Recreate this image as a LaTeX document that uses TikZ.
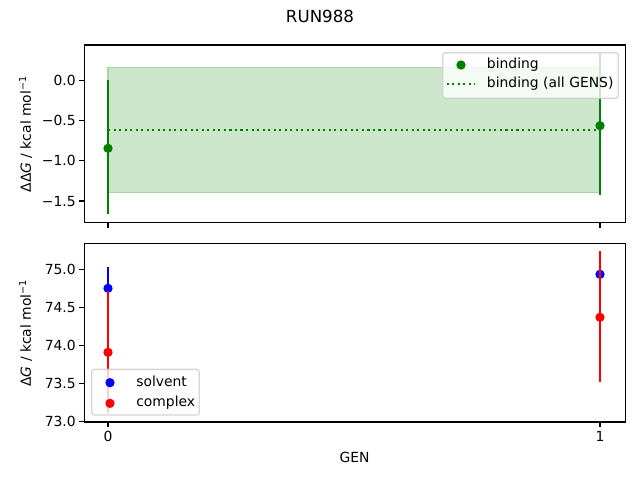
\documentclass[tikz,border=0pt]{standalone}
\usepackage{fontspec}
\setmainfont{DejaVu Sans}
\definecolor{mgreen}{RGB}{0,128,0}
\definecolor{mblue}{RGB}{0,0,255}
\definecolor{mred}{RGB}{255,0,0}
\definecolor{fillg}{RGB}{204,230,204}
\definecolor{edgeg}{RGB}{170,212,170}
\definecolor{lgray}{RGB}{204,204,204}
\begin{document}
\begin{tikzpicture}[x=0.75pt,y=-0.75pt,
  tickmark/.style={line width=0.83pt},
  axframe/.style={line width=0.83pt, draw=black},
  lbl/.style={font=\fontsize{10.42pt}{12pt}\selectfont, inner sep=0pt},
  ebar/.style={line width=1.56pt},
  dot/.style={radius=3.5pt},
  legbox/.style={rounded corners=2.1pt, fill=white, fill opacity=0.8, draw=lgray, draw opacity=0.8, line width=1.04pt},
  dotline/.style={line width=1.56pt, dash pattern=on 1.56pt off 2.58pt}]
\useasboundingbox (0,0) rectangle (640,480);

% ---------- title
\node[lbl, font=\fontsize{12.5pt}{14pt}\selectfont, anchor=base] (title) at (320,22.7) {RUN988};

% ---------- top axes
\begin{scope}
\clip (84.3,45) rectangle (625.3,222.7);
\fill[fillg] (108,67.3) rectangle (600,192.7);
\draw[edgeg, line width=1.04pt] (108,67.3) rectangle (600,192.7);
\draw[mgreen, dotline] (108,130) -- (600,130);
\draw[mgreen, ebar] (108,80.3) -- (108,214.3);
\draw[mgreen, ebar] (600,53) -- (600,195);
\fill[mgreen] (108,148.3) circle[dot];
\fill[mgreen] (600,125.7) circle[dot];
\end{scope}
% legend top
\draw[legbox] (442.7,52.7) rectangle (618.3,98.3);
\fill[mgreen] (461,65) circle[dot];
\draw[mgreen, dotline] (446.7,84) -- (475,84);
\node[lbl, anchor=base west] (lbind) at (486.7,68.5) {binding};
\node[lbl, anchor=base west] (lbindall) at (486.7,87.5) {binding (all GENS)};
% frame and ticks
\draw[axframe] (84.3,45) rectangle (625.3,222.7);
\foreach \yy/\tt [count=\i] in {80.3/0.0, 120.5/−0.5, 160.8/−1.0, 201.0/−1.5}{
  \draw[tickmark] (84.3,\yy) -- ++(-4.86,0);
  \node[lbl, anchor=base east] (ty\i) at (76,\yy+5.1) {\tt};
}
\draw[tickmark] (108,222.7) -- ++(0,4.86);
\draw[tickmark] (600,222.7) -- ++(0,4.86);
\node[lbl, rotate=90, anchor=base] (ylabtop) at (31,134) {ΔΔ\textit{G} / kcal mol\textsuperscript{−1}};

% ---------- bottom axes
\begin{scope}
\clip (84.3,243.3) rectangle (625.3,422);
\draw[mblue, ebar] (108,266.7) -- (108,309.6);
\fill[mblue] (108,288.3) circle[dot];
\draw[mblue, ebar] (600,253) -- (600,295.6);
\fill[mblue] (600,274.3) circle[dot];
\draw[mred, ebar] (108,291) -- (108,413.3);
\fill[mred] (108,352.3) circle[dot];
\draw[mred, ebar] (600,251) -- (600,381.7);
\fill[mred] (600,317.3) circle[dot];
\end{scope}
% legend bottom
\draw[legbox] (91.7,369.3) rectangle (199.3,415);
\fill[mblue] (110,382.7) circle[dot];
\fill[mred] (110,403.3) circle[dot];
\node[lbl, anchor=base west] (lsolv) at (136,386.2) {solvent};
\node[lbl, anchor=base west] (lcomp) at (136,406.8) {complex};
% frame and ticks
\draw[axframe] (84.3,243.3) rectangle (625.3,422);
\foreach \yy/\tt [count=\i] in {269.3/75.0, 307.4/74.5, 345.5/74.0, 383.6/73.5, 421.7/73.0}{
  \draw[tickmark] (84.3,\yy) -- ++(-4.86,0);
  \node[lbl, anchor=base east] (by\i) at (76,\yy+5.1) {\tt};
}
\draw[tickmark] (108,422) -- ++(0,4.86);
\draw[tickmark] (600,422) -- ++(0,4.86);
\node[lbl, anchor=base] (tx0) at (108,441.7) {0};
\node[lbl, anchor=base] (tx1) at (600,441.7) {1};
\node[lbl, anchor=base] (xlab) at (354.6,462.3) {GEN};
\node[lbl, rotate=90, anchor=base] (ylabbot) at (31,333) {Δ\textit{G} / kcal mol\textsuperscript{−1}};
\end{tikzpicture}
\end{document}
